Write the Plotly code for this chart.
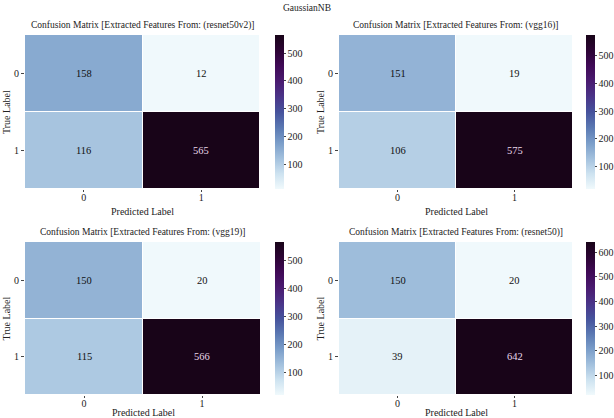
import plotly.graph_objects as go

# confusion matrices (rows = true label, cols = predicted label)
labels = ["0", "1"]
models = ["resnet50v2", "vgg16", "vgg19", "resnet50"]
cm_resnet50v2 = [[158, 12], [116, 565]]
cm_vgg16 = [[151, 19], [106, 575]]
cm_vgg19 = [[150, 20], [115, 566]]
cm_resnet50 = [[150, 20], [39, 642]]
matrices = [cm_resnet50v2, cm_vgg16, cm_vgg19, cm_resnet50]

FONT = "Liberation Serif"
W, H = 614, 418

# seaborn-like light blue -> purple -> near black
colorscale = [
    [0.0, "rgb(240,249,252)"],
    [0.1, "rgb(205,226,240)"],
    [0.2, "rgb(162,192,221)"],
    [0.3, "rgb(122,157,201)"],
    [0.4, "rgb(90,120,178)"],
    [0.5, "rgb(70,82,156)"],
    [0.6, "rgb(74,52,136)"],
    [0.7, "rgb(74,27,112)"],
    [0.8, "rgb(64,10,86)"],
    [0.9, "rgb(44,4,52)"],
    [1.0, "rgb(24,4,24)"],
]

# pixel boxes of each heatmap: (left, right, top, bottom)
boxes = [(25, 260, 35, 189), (339, 573, 35, 189),
         (25, 261, 242, 395), (339, 573, 242, 395)]
cbar_x = [275, 586, 275, 586]
xtitle_gap = [22, 22, 17, 17]


def px(x, y):
    return x / W, 1 - y / H


fig = go.Figure()
annotations = []
for i, (cm, name) in enumerate(zip(matrices, models)):
    l, r, t, b = boxes[i]
    xa = "x" if i == 0 else f"x{i+1}"
    ya = "y" if i == 0 else f"y{i+1}"
    flat = [v for row in cm for v in row]
    zmin, zmax = min(flat), max(flat)
    fig.add_trace(go.Heatmap(
        z=cm, x=labels, y=labels, xaxis=xa, yaxis=ya,
        colorscale=colorscale, zmin=zmin, zmax=zmax,
        xgap=1, ygap=1,
        colorbar=dict(
            x=cbar_x[i] / W, xanchor="left", xpad=0, ypad=0,
            y=1 - (t + b) / 2 / H, yanchor="middle",
            len=(b - t) / H, lenmode="fraction", thickness=9,
            outlinewidth=0, ticks="outside", ticklen=2,
            tickfont=dict(family=FONT, size=10, color="#222"),
            dtick=100,
        ),
        hoverinfo="skip",
    ))
    key = "" if i == 0 else str(i + 1)
    fig.layout["xaxis" + key] = dict(
        domain=[l / W, r / W], anchor=ya, type="category",
        ticks="outside", ticklen=2, tickcolor="#444", automargin=False,
        ticklabelstandoff=-3,
        tickfont=dict(family=FONT, size=10, color="#222"),
        showgrid=False, zeroline=False, showline=False,
    )
    fig.layout["yaxis" + key] = dict(
        domain=[1 - b / H, 1 - t / H], anchor=xa, type="category",
        autorange="reversed", automargin=False,
        ticks="outside", ticklen=3, tickcolor="#444",
        tickfont=dict(family=FONT, size=10, color="#222"),
        showgrid=False, zeroline=False, showline=False,
    )
    # subplot title and axis titles
    ax, ay = px((l + r) / 2, t - 10)
    annotations.append(dict(
        text=f"Confusion Matrix [Extracted Features From: ({name})]",
        x=ax, y=ay, xref="paper", yref="paper",
        xanchor="center", yanchor="middle", showarrow=False,
        font=dict(family=FONT, size=9.5, color="#222"),
    ))
    ax, ay = px((l + r) / 2, b + xtitle_gap[i])
    annotations.append(dict(
        text="Predicted Label", x=ax, y=ay, xref="paper", yref="paper",
        xanchor="center", yanchor="middle", showarrow=False,
        font=dict(family=FONT, size=10, color="#222"),
    ))
    ax, ay = px(l - 19, (t + b) / 2)
    annotations.append(dict(
        text="True Label", x=ax, y=ay, xref="paper", yref="paper",
        xanchor="center", yanchor="middle", showarrow=False, textangle=-90,
        font=dict(family=FONT, size=10, color="#222"),
    ))
    for ri, row in enumerate(cm):
        for ci, v in enumerate(row):
            frac = (v - zmin) / (zmax - zmin)
            annotations.append(dict(
                text=str(v), x=labels[ci], y=labels[ri], xref=xa, yref=ya,
                showarrow=False,
                font=dict(family=FONT, size=10.5,
                          color="#e8d8ea" if frac > 0.5 else "#111"),
            ))

annotations.append(dict(
    text="GaussianNB", x=0.5, y=1 - 8 / H, xref="paper", yref="paper",
    xanchor="center", yanchor="middle", showarrow=False,
    font=dict(family=FONT, size=9.5, color="#222"),
))

fig.update_layout(
    width=W, height=H,
    margin=dict(l=0, r=0, t=0, b=0, pad=0, autoexpand=False),
    paper_bgcolor="white", plot_bgcolor="white",
    annotations=annotations,
    font=dict(family=FONT),
)

# page body has a default 8px margin; drop it so the figure sits at 0,0
fig.write_html("out.html", config={"displayModeBar": False},
               post_script="document.body.style.margin='0';")
